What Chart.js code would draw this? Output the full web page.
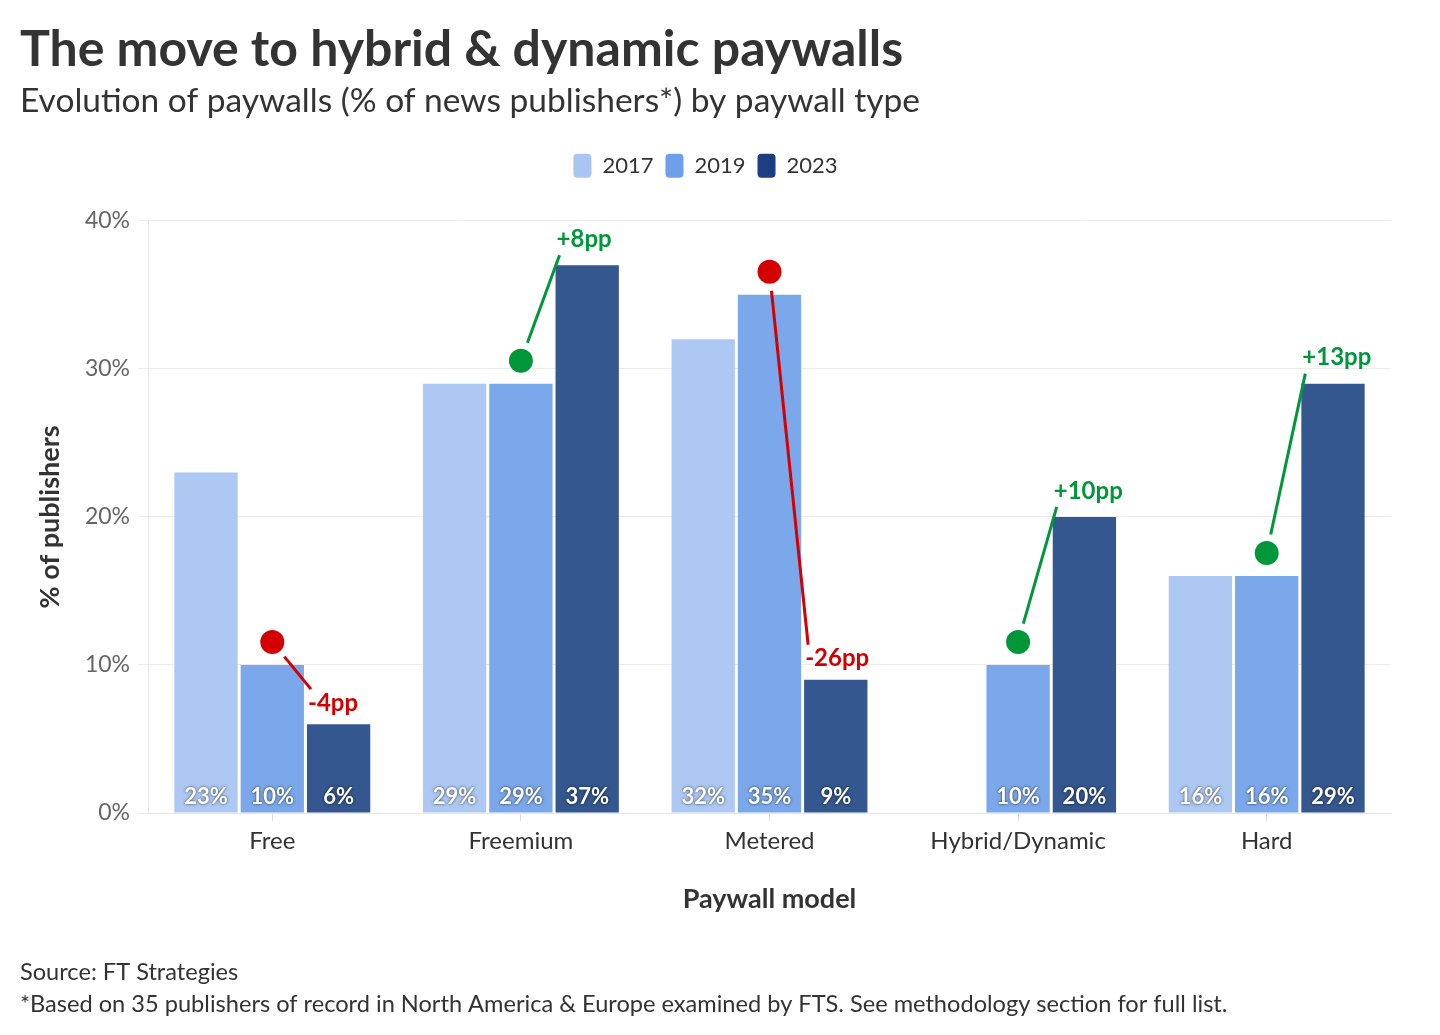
<!DOCTYPE html>
<html><head><meta charset="utf-8">
<script src="https://cdn.jsdelivr.net/npm/chart.js@4.4.1/dist/chart.umd.min.js"></script>
<style>html,body{margin:0;padding:0;background:#fff;}#wrap{width:1440px;height:1035px;}</style>
</head><body><div id="wrap"><canvas id="c" width="1440" height="1035"></canvas></div>
<script>
const categories = ['Free', 'Freemium', 'Metered', 'Hybrid/Dynamic', 'Hard'];
const years = ['2017', '2019', '2023'];
const values2017 = [23, 29, 32, null, 16];
const values2019 = [10, 29, 35, 10, 16];
const values2023 = [6, 37, 9, 20, 29];
const yTickValues = [0, 10, 20, 30, 40];
const titleText = 'The move to hybrid & dynamic paywalls';
const subtitleText = 'Evolution of paywalls (% of news publishers*) by paywall type';
const footerLines = ['Source: FT Strategies', '*Based on 35 publishers of record in North America & Europe examined by FTS. See methodology section for full list.'];

const FONT = 'Lato';
const barColors = ['#aec8f4', '#7ba8eb', '#34578f'];
const legendColors = ['#a9c5f2', '#6f9fe8', '#1d3f81'];

const overlay = {
  id: 'overlay',
  beforeInit(chart) {
    const lg = chart.legend;
    if (lg) {
      const origFit = lg.fit;
      lg.fit = function () { origFit.call(this); this.height += 33; };
    }
  },
  afterDatasetsDraw(chart) {
    const ctx = chart.ctx, y = chart.scales.y;
    ctx.save();
    ctx.font = 'bold 22px ' + FONT;
    ctx.textAlign = 'center';
    ctx.textBaseline = 'middle';
    chart.data.datasets.forEach((ds, di) => {
      chart.getDatasetMeta(di).data.forEach((bar, i) => {
        const v = ds.data[i];
        if (v == null) return;
        ctx.shadowColor = 'rgba(0,0,0,0.7)';
        ctx.shadowBlur = 3;
        ctx.fillStyle = '#fff';
        ctx.fillText(v + '%', bar.x, y.getPixelForValue(0) - 16);
      });
    });
    ctx.restore();

    const m19 = chart.getDatasetMeta(1), m23 = chart.getDatasetMeta(2);
    categories.forEach((c, i) => {
      const d = values2023[i] - values2019[i];
      const up = d > 0;
      const col = up ? '#00963a' : '#d40000';
      const b19 = m19.data[i], b23 = m23.data[i];
      const dx = b19.x, dy = y.getPixelForValue(values2019[i]) - 23;
      const ex = b23.x - b23.width / 2 + 4;
      const ey = y.getPixelForValue(values2023[i]) - (up ? 10 : 35);
      const ang = Math.atan2(ey - dy, ex - dx);
      const sx = dx + Math.cos(ang) * 19, sy = dy + Math.sin(ang) * 19;
      ctx.save();
      ctx.strokeStyle = col;
      ctx.lineWidth = 3;
      ctx.beginPath(); ctx.moveTo(sx, sy); ctx.lineTo(ex, ey); ctx.stroke();
      ctx.fillStyle = col;
      ctx.beginPath(); ctx.arc(dx, dy, 12, 0, Math.PI * 2); ctx.fill();
      ctx.font = 'bold 24px ' + FONT;
      ctx.textAlign = 'left';
      ctx.textBaseline = 'middle';
      ctx.fillText((up ? '+' : '') + d + 'pp', ex - 3, ey + (up ? -16 : 14));
      ctx.restore();
    });
  },
  afterDraw(chart) {
    const ctx = chart.ctx;
    ctx.save();
    ctx.font = '23.6px ' + FONT;
    ctx.fillStyle = '#333';
    ctx.textAlign = 'left';
    ctx.textBaseline = 'middle';
    ctx.fillText(footerLines[0], 20, 972);
    ctx.fillText(footerLines[1], 20, 1004);
    ctx.restore();
  }
};

new Chart(document.getElementById('c'), {
  type: 'bar',
  data: {
    labels: categories,
    datasets: [
      { label: years[0], data: values2017, backgroundColor: barColors[0] },
      { label: years[1], data: values2019, backgroundColor: barColors[1] },
      { label: years[2], data: values2023, backgroundColor: barColors[2] }
    ]
  },
  options: {
    responsive: false,
    animation: false,
    categoryPercentage: 0.8,
    barPercentage: 0.955,
    layout: { padding: { left: 20, right: 49, top: 0, bottom: 112 } },
    plugins: {
      tooltip: { enabled: false },
      title: {
        display: true, text: titleText, align: 'start', color: '#333',
        font: { family: FONT, size: 50, weight: 'bold' }, padding: { top: 20, bottom: 0 }
      },
      subtitle: {
        display: true, text: subtitleText, align: 'start', color: '#333',
        font: { family: FONT, size: 33.5 }, padding: { top: 1, bottom: 20.6 }
      },
      legend: {
        position: 'top', align: 'center',
        labels: {
          boxWidth: 18, boxHeight: 24, useBorderRadius: true, borderRadius: 4,
          color: '#333', font: { family: FONT, size: 22 }, padding: 12,
          generateLabels(chart) {
            return chart.data.datasets.map((ds, i) => ({
              text: ds.label, fillStyle: legendColors[i], strokeStyle: legendColors[i],
              lineWidth: 0, borderRadius: 4, datasetIndex: i, fontColor: '#333'
            }));
          }
        }
      }
    },
    scales: {
      x: {
        grid: { display: true, drawOnChartArea: false, drawTicks: true, tickLength: 8, offset: false, color: '#ddd' },
        border: { display: true, color: '#e6e6e6' },
        ticks: { color: '#333', font: { family: FONT, size: 24 }, padding: 6 },
        title: { display: true, text: 'Paywall model', color: '#333', font: { family: FONT, size: 27, weight: 'bold' }, padding: { top: 0, bottom: 8 } },
        afterFit(s) { s.height = 110; }
      },
      y: {
        min: 0, max: 40,
        afterBuildTicks(s) { s.ticks = yTickValues.map(v => ({ value: v })); },
        grid: { color: '#ebebeb', tickLength: 10, drawTicks: true },
        border: { display: true, color: '#e6e6e6' },
        ticks: { color: '#666', font: { family: FONT, size: 23 }, padding: 8, callback: v => v + '%' },
        title: { display: true, text: '% of publishers', color: '#333', font: { family: FONT, size: 27, weight: 'bold' }, padding: { top: 14, bottom: 0 } },
        afterFit(s) { s.width = 128; }
      }
    }
  },
  plugins: [overlay]
});
</script></body></html>
